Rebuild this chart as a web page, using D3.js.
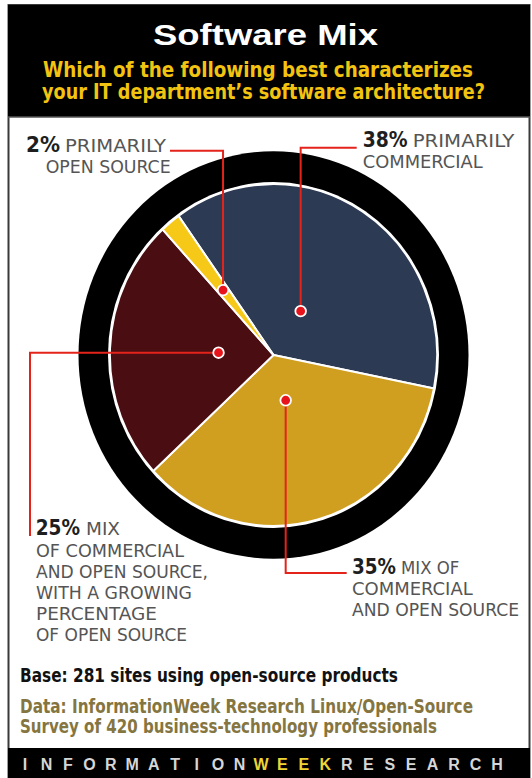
<!DOCTYPE html>
<html><head><meta charset="utf-8">
<script src="https://cdn.jsdelivr.net/npm/d3@7"></script>
<style>html,body{margin:0;padding:0;background:#fff}svg{display:block}</style>
</head><body>
<script>
// ---------- data ----------
const categories = ["Primarily commercial", "Mix of commercial and open source", "Mix, growing share of open source", "Primarily open source"];
const values = [38, 35, 25, 2];
const pctLabels = ["38%", "35%", "25%", "2%"];
const descLines = [
  ["PRIMARILY", "COMMERCIAL"],
  ["MIX OF", "COMMERCIAL", "AND OPEN SOURCE"],
  ["MIX", "OF COMMERCIAL", "AND OPEN SOURCE,", "WITH A GROWING", "PERCENTAGE", "OF OPEN SOURCE"],
  ["PRIMARILY", "OPEN SOURCE"]
];
const titleText = "Software Mix";
const subtitleLines = ["Which of the following best characterizes", "your IT department\u2019s software architecture?"];
const baseText = "Base: 281 sites using open-source products";
const sourceLines = ["Data: InformationWeek Research Linux/Open-Source", "Survey of 420 business-technology professionals"];
const footerParts = [["INFORMATION", "#d6d6d6"], ["WEEK", "#eed536"], ["RESEARCH", "#d6d6d6"]];

// ---------- layout / style ----------
const W = 532, H = 778;
const colors = ["#2d3a53", "#d09f1f", "#4a0d11", "#f6c817"];
const cx = 273.5, cy = 355, yStretch = 1.045;
const startDeg = -35.5;
const dotR = [50, 45, 55, 80];
const labelLayout = [
  {px: 362.7, py: 146.7, pw: 45, d1x: 412.7, d1w: 101.6, lx: 362.7, ly: 168.3, lw: [120]},
  {px: 352, py: 574.3, pw: 44, d1x: 401, d1w: 58.3, lx: 352, ly: 595, lw: [120.7, 167]},
  {px: 35.7, py: 535, pw: 44.3, d1x: 86, d1w: 34, lx: 36, ly: 556.7, lw: [148, 172, 156, 121, 151]},
  {px: 26, py: 151.7, pw: 34, d1x: 65, d1w: 101, lx: 45.7, ly: 172.7, lw: [125]}
];
const lineH = 21;
const leaders = [
  {type: "v", k: 147.7, end: 356.7},
  {type: "v", k: 573, end: 346.7},
  {type: "h", k: 30, end: 536},
  {type: "v", k: 150.7, end: 170}
];

const narrow = "'Liberation Sans Narrow','DejaVu Sans Condensed','Liberation Sans',Arial,sans-serif";

const svg = d3.select("body").append("svg").attr("width", W).attr("height", H);

// frame
svg.append("rect").attr("x", 0).attr("y", 0).attr("width", W).attr("height", H).attr("fill", "#fff");
svg.append("rect").attr("x", 8.5).attr("y", 5).attr("width", 521).attr("height", H).attr("fill", "#fff")
  .attr("stroke", "#3a3a3a").attr("stroke-width", 2);
svg.append("rect").attr("x", 8).attr("y", 5).attr("width", 522).attr("height", 112).attr("fill", "#000");
svg.append("line").attr("x1", 8).attr("x2", 530).attr("y1", 117).attr("y2", 117).attr("stroke", "#555").attr("stroke-width", 1.5);
svg.append("rect").attr("x", 8).attr("y", 748).attr("width", 522).attr("height", 30).attr("fill", "#000");

function fitText(g, str, x, y, w, opts) {
  return g.append("text").attr("x", x).attr("y", y).text(str)
    .attr("textLength", w).attr("lengthAdjust", "spacingAndGlyphs")
    .attr("font-family", opts.family || narrow)
    .attr("font-size", opts.size).attr("font-weight", opts.weight || "normal")
    .attr("fill", opts.fill);
}

// title
fitText(svg, titleText, 153, 45, 225, {family: "'Liberation Sans',Arial,sans-serif", size: 29, weight: "bold", fill: "#fff"});
fitText(svg, subtitleLines[0], 43, 76.5, 430, {size: 21, weight: "bold", fill: "#f2c411"});
fitText(svg, subtitleLines[1], 42, 99.3, 443, {size: 21, weight: "bold", fill: "#f2c411"});

// pie
const pie = d3.pie().sort(null).value(d => d)
  .startAngle(startDeg * Math.PI / 180).endAngle(startDeg * Math.PI / 180 + 2 * Math.PI);
const arcs = pie(values);
const gPie = svg.append("g").attr("transform", `translate(${cx},${cy}) scale(1,${yStretch})`);
gPie.append("circle").attr("r", 195).attr("fill", "#000");
gPie.append("circle").attr("r", 165.5).attr("fill", "#fff");
const arc = d3.arc().innerRadius(0).outerRadius(163.6);
gPie.selectAll("path.slice").data(arcs).join("path").attr("class", "slice")
  .attr("d", arc).attr("fill", (d, i) => colors[i])
  .attr("stroke", "#fff").attr("stroke-width", 2).attr("stroke-linejoin", "round");

const dots = arcs.map((a, i) => {
  const c = d3.arc().innerRadius(dotR[i]).outerRadius(dotR[i]).centroid(a);
  return [cx + c[0], cy + c[1] * yStretch];
});

// leaders
const gLead = svg.append("g");
leaders.forEach((L, i) => {
  const [dx, dy] = dots[i];
  const pts = L.type === "v" ? [[dx, dy], [dx, L.k], [L.end, L.k]] : [[dx, dy], [L.k, dy], [L.k, L.end]];
  gLead.append("path").attr("d", d3.line()(pts)).attr("fill", "none")
    .attr("stroke", "#e4231b").attr("stroke-width", 2);
});
gLead.selectAll("circle").data(dots).join("circle")
  .attr("cx", d => d[0]).attr("cy", d => d[1]).attr("r", 5.3)
  .attr("fill", "#e8141b").attr("stroke", "#fff").attr("stroke-width", 1.8);

// labels
const gLab = svg.append("g");
labelLayout.forEach((L, i) => {
  fitText(gLab, pctLabels[i], L.px, L.py, L.pw, {size: 22, weight: "bold", fill: "#1e1e1e"});
  fitText(gLab, descLines[i][0], L.d1x, L.py, L.d1w, {size: 17, fill: "#555"});
  descLines[i].slice(1).forEach((s, j) => {
    fitText(gLab, s, L.lx, L.ly + j * lineH, L.lw[j], {size: 17, fill: "#555"});
  });
});

// notes
fitText(svg, baseText, 20, 682, 378, {size: 19, weight: "bold", fill: "#111"});
fitText(svg, sourceLines[0], 20, 712.5, 453, {size: 19, weight: "bold", fill: "#857540"});
fitText(svg, sourceLines[1], 20, 733, 417, {size: 19, weight: "bold", fill: "#857540"});

// footer spaced letters
const letters = [];
footerParts.forEach(([s, c]) => s.split("").forEach(ch => letters.push({ch, c})));
const xs = d3.scalePoint().domain(d3.range(letters.length)).range([25, 497]);
svg.append("g").selectAll("text").data(letters).join("text")
  .attr("x", (d, i) => xs(i)).attr("y", 770).attr("text-anchor", "middle")
  .attr("font-family", "'Liberation Sans',Arial,sans-serif").attr("font-weight", "bold")
  .attr("font-size", 16).attr("fill", d => d.c).text(d => d.ch);
</script>
</body></html>
